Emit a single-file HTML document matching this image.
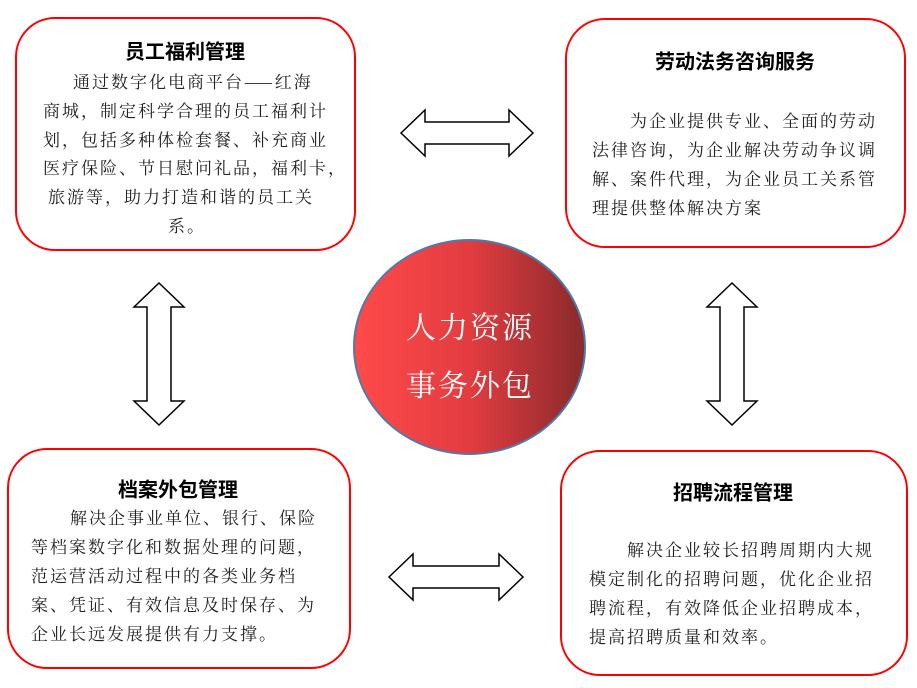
<!DOCTYPE html>
<html><head><meta charset="utf-8"><style>
body{margin:0;width:917px;height:688px;background:#fff;position:relative;overflow:hidden;font-family:"Liberation Serif","Noto Serif CJK SC",serif;}
.box{position:absolute;border:2px solid #f00;border-radius:40px;background:#fff;box-sizing:border-box}
.t{position:absolute;font-family:"Noto Sans CJK SC",sans-serif;font-weight:bold;font-size:20px;color:#000;white-space:nowrap;transform:translate(-50%,-50%)}
.l{position:absolute;font-family:"Noto Serif CJK SC",serif;font-size:17px;letter-spacing:2px;color:#222;white-space:nowrap;line-height:20px;transform:translateY(-50%)}
.c{position:absolute;left:353px;top:239px;width:233px;height:216px;border-radius:50%;border:2px solid #4f7bab;box-sizing:border-box;background:linear-gradient(90deg,#ff4a4a 0%,#e23c40 50%,#8a2a2c 100%)}
.ct{position:absolute;color:#fff;font-size:30px;letter-spacing:2px;white-space:nowrap;transform:translate(-50%,-50%);font-family:"Noto Serif CJK SC",serif}
</style></head><body>
<div class="box" style="left:15px;top:17px;width:341px;height:234px"></div>
<div class="box" style="left:565px;top:18px;width:341px;height:230px"></div>
<div class="box" style="left:7px;top:448px;width:344px;height:221px"></div>
<div class="box" style="left:560px;top:450px;width:348px;height:226px"></div>

<svg style="position:absolute;left:0;top:0" width="917" height="688">
<g fill="#fff" stroke="#000" stroke-width="1.5">
<polygon points="401,133 425,110 425,122 509,122 509,110 533,133 509,156 509,144 425,144 425,156"/>
<polygon points="389,577 413,554 413,566 499,566 499,554 523,577 499,600 499,588 413,588 413,600"/>
<polygon points="159,283 184,307 171,307 171,401 184,401 159,425 134,401 147,401 147,307 134,307"/>
<polygon points="732,283 757,307 744,307 744,401 757,401 732,425 707,401 720,401 720,307 707,307"/>
</g></svg>

<div class="c"></div>
<div class="ct" style="left:470px;top:325px">人力资源</div>
<div class="ct" style="left:470px;top:383px">事务外包</div>

<div class="t" style="left:185px;top:50px">员工福利管理</div>
<div class="l" style="left:73px;top:81px">通过数字化电商平台——红海</div>
<div class="l" style="left:43px;top:110px">商城，制定科学合理的员工福利计</div>
<div class="l" style="left:43px;top:139px">划，包括多种体检套餐、补充商业</div>
<div class="l" style="left:43px;top:167px">医疗保险、节日慰问礼品，福利卡，</div>
<div class="l" style="left:48px;top:196px">旅游等，助力打造和谐的员工关</div>
<div class="l" style="left:168px;top:225px">系。</div>

<div class="t" style="left:735px;top:60px">劳动法务咨询服务</div>
<div class="l" style="left:630px;top:120px">为企业提供专业、全面的劳动</div>
<div class="l" style="left:592px;top:149px">法律咨询，为企业解决劳动争议调</div>
<div class="l" style="left:592px;top:178px">解、案件代理，为企业员工关系管</div>
<div class="l" style="left:592px;top:207px">理提供整体解决方案</div>

<div class="t" style="left:178px;top:488px">档案外包管理</div>
<div class="l" style="left:70px;top:517px">解决企事业单位、银行、保险</div>
<div class="l" style="left:31px;top:546px">等档案数字化和数据处理的问题，</div>
<div class="l" style="left:31px;top:575px">范运营活动过程中的各类业务档</div>
<div class="l" style="left:31px;top:604px">案、凭证、有效信息及时保存、为</div>
<div class="l" style="left:31px;top:633px">企业长远发展提供有力支撑。</div>

<div class="t" style="left:733px;top:491px">招聘流程管理</div>
<div class="l" style="left:627px;top:549px">解决企业较长招聘周期内大规</div>
<div class="l" style="left:589px;top:578px">模定制化的招聘问题，优化企业招</div>
<div class="l" style="left:589px;top:607px">聘流程，有效降低企业招聘成本，</div>
<div class="l" style="left:589px;top:636px">提高招聘质量和效率。</div>
</body></html>
